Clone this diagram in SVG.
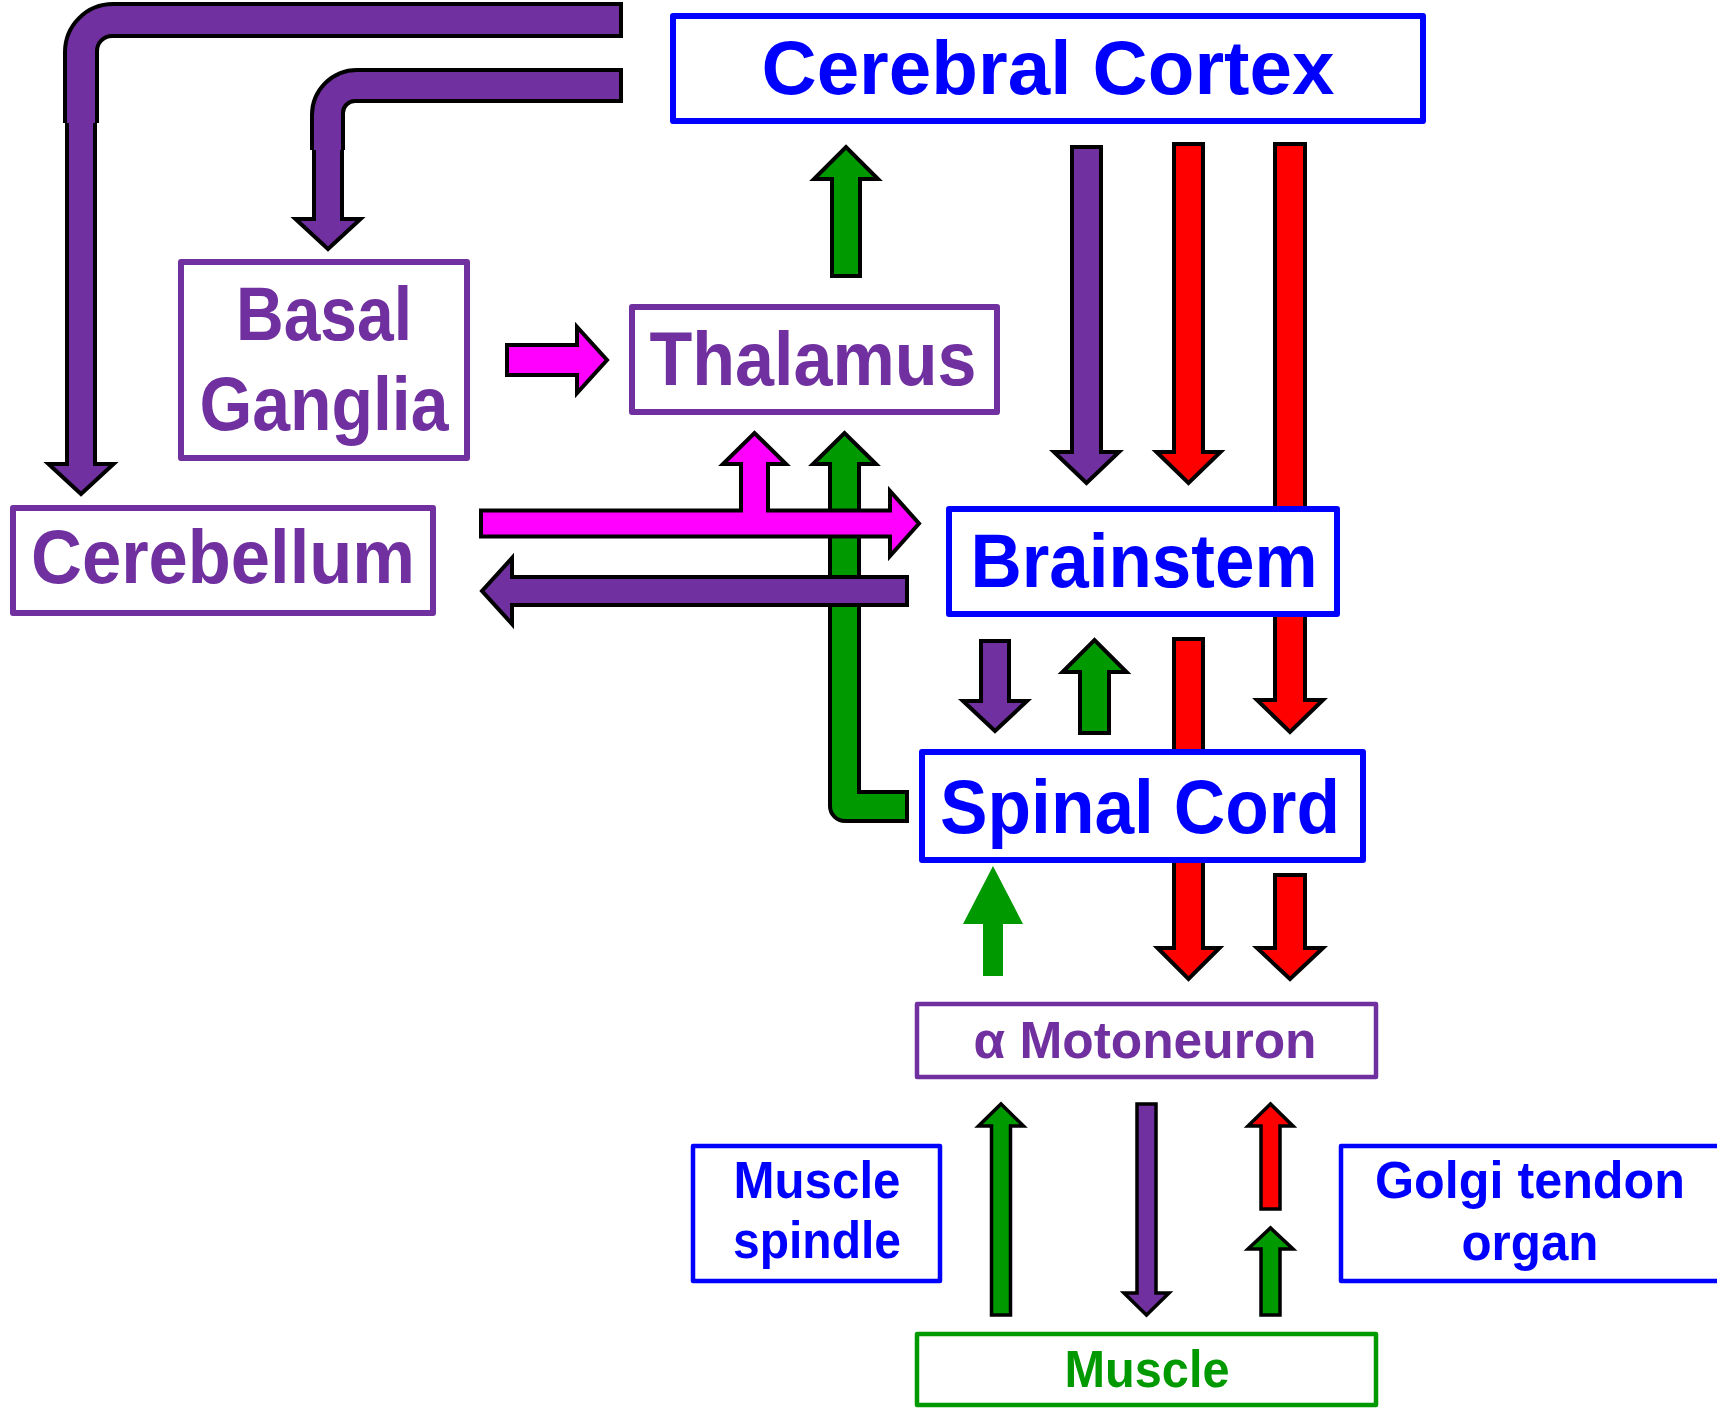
<svg xmlns="http://www.w3.org/2000/svg" width="1717" height="1408" viewBox="0 0 1717 1408">
  <style>
    .box { fill: #ffffff; stroke-width: 6; stroke-linejoin: round; }
    .sm { stroke-width: 4.5; }
    .b { stroke: #0000ff; }
    .p { stroke: #7030a0; }
    .g { stroke: #009900; }
    text { font-family: "Liberation Sans", Arial, sans-serif; font-weight: bold; text-anchor: middle; }
    .big { font-size: 76px; }
    .mid { font-size: 52px; }
    .tb { fill: #0000ff; }
    .tp { fill: #7030a0; }
    .tg { fill: #009900; }
    .ar { stroke: #000000; stroke-width: 4; stroke-linejoin: miter; }
    .thin { stroke-width: 3.5; }
    .fp { fill: #7030a0; }
    .fr { fill: #ff0000; }
    .fg { fill: #009900; }
    .fm { fill: #ff00ff; }
  </style>

  <g id="connectors">
    <!-- cortex to cerebellum: elbow band over the arrow shaft -->
    <polygon class="ar fp" points="67,118 95,118 95,464 113.5,464 81,494 48.5,464 67,464"/>
    <path class="ar fp" d="M97,123 L97,51 A15,15 0 0 1 112,36 L621,36 L621,4 L113,4 A48,48 0 0 0 65,52 L65,123"/>

    <!-- cortex to basal ganglia -->
    <polygon class="ar fp" points="314,145 342,145 342,219 360.5,219 328,249 295.5,219 314,219"/>
    <path class="ar fp" d="M343,150 L343,113 A12,12 0 0 1 355,101 L621,101 L621,70 L357,70 A45,45 0 0 0 312,115 L312,150"/>

    <!-- basal ganglia to thalamus -->
    <polygon class="ar fm" points="507,345 577,345 577,327 607,360 577,393 577,375 507,375"/>

    <!-- thalamus to cortex -->
    <polygon class="ar fg" points="832,276 832,179 814,179 846,147 878,179 860,179 860,276"/>

    <!-- cortex descending -->
    <polygon class="ar fp" points="1072,147 1101,147 1101,452 1119,452 1086.5,483 1054,452 1072,452"/>
    <polygon class="ar fr" points="1174,144 1203,144 1203,452 1220.5,452 1188.5,483 1156.5,452 1174,452"/>
    <polygon class="ar fr" points="1275,144 1305,144 1305,700 1323,700 1290,732 1257,700 1275,700"/>

    <!-- brainstem / spinal cord -->
    <polygon class="ar fp" points="981,641 1009,641 1009,701 1027,701 995,731 963,701 981,701"/>
    <polygon class="ar fg" points="1080,733 1080,672 1062.5,672 1094.5,640 1126.5,672 1109,672 1109,733"/>
    <polygon class="ar fr" points="1174,639 1203,639 1203,948 1219.5,948 1188.5,979 1157.5,948 1174,948"/>
    <polygon class="ar fr" points="1275,875 1305,875 1305,948 1323,948 1290,979 1257,948 1275,948"/>

    <!-- motoneuron to spinal cord -->
    <polygon class="fg" points="983,976 983,924 963,924 993,866 1023,924 1003,924 1003,976"/>

    <!-- muscle loop -->
    <polygon class="ar thin fg" points="991.5,1315 991.5,1126 978.5,1126 1001,1104 1023.5,1126 1010.5,1126 1010.5,1315"/>
    <polygon class="ar thin fp" points="1137,1104 1156,1104 1156,1293 1169,1293 1146.5,1315 1124,1293 1137,1293"/>
    <polygon class="ar thin fr" points="1261,1209 1261,1126 1248,1126 1270.5,1104 1293,1126 1280,1126 1280,1209"/>
    <polygon class="ar thin fg" points="1261,1315 1261,1249 1248,1249 1270.5,1228 1293,1249 1280,1249 1280,1315"/>

    <!-- spinal cord to thalamus (ascending) -->
    <path class="ar fg" d="M907,792 L859,792 L859,464 L876,464 L844.5,433 L813,464 L830,464 L830,806 A15,15 0 0 0 845,821 L907,821 Z"/>

    <!-- cerebellum to brainstem, branch to thalamus -->
    <polygon class="ar fm" points="481,510.5 741,510.5 741,464 723,464 754.5,433 786,464 768,464 768,510.5 890,510.5 890,491 919,523.5 890,556 890,536.5 481,536.5"/>

    <!-- brainstem to cerebellum -->
    <polygon class="ar fp" points="907,577 512,577 512,558 482,591 512,624 512,605 907,605"/>
  </g>

  <g id="cerebral-cortex">
    <rect class="box b" x="673" y="16" width="750" height="105"/>
    <text class="big tb" x="1048" y="94" textLength="573" lengthAdjust="spacingAndGlyphs">Cerebral Cortex</text>
  </g>

  <g id="thalamus">
    <rect class="box p" x="632" y="307" width="365" height="105"/>
    <text class="big tp" x="813" y="385" textLength="327" lengthAdjust="spacingAndGlyphs">Thalamus</text>
  </g>

  <g id="basal-ganglia">
    <rect class="box p" x="181" y="262" width="286" height="196"/>
    <text class="big tp"><tspan x="324" y="340" textLength="176" lengthAdjust="spacingAndGlyphs">Basal</tspan><tspan x="324" y="430" textLength="249" lengthAdjust="spacingAndGlyphs">Ganglia</tspan></text>
  </g>

  <g id="cerebellum">
    <rect class="box p" x="13" y="508" width="420" height="105"/>
    <text class="big tp" x="223" y="583" textLength="384" lengthAdjust="spacingAndGlyphs">Cerebellum</text>
  </g>

  <g id="brainstem">
    <rect class="box b" x="949" y="509" width="388" height="105"/>
    <text class="big tb" x="1144" y="587" textLength="347" lengthAdjust="spacingAndGlyphs">Brainstem</text>
  </g>

  <g id="spinal-cord">
    <rect class="box b" x="922" y="752" width="441" height="108"/>
    <text class="big tb" x="1140" y="833" textLength="400" lengthAdjust="spacingAndGlyphs">Spinal Cord</text>
  </g>

  <g id="motoneuron">
    <rect class="box sm p" x="917" y="1004" width="459" height="73"/>
    <text class="mid tp" x="1145" y="1058" textLength="343" lengthAdjust="spacingAndGlyphs">α Motoneuron</text>
  </g>

  <g id="muscle-spindle">
    <rect class="box sm b" x="693" y="1146" width="247" height="135"/>
    <text class="mid tb"><tspan x="817" y="1198" textLength="167" lengthAdjust="spacingAndGlyphs">Muscle</tspan><tspan x="817" y="1258" textLength="168" lengthAdjust="spacingAndGlyphs">spindle</tspan></text>
  </g>

  <g id="golgi-tendon-organ">
    <rect class="box sm b" x="1341" y="1146" width="420" height="135"/>
    <text class="mid tb"><tspan x="1530" y="1198" textLength="310" lengthAdjust="spacingAndGlyphs">Golgi tendon</tspan><tspan x="1530" y="1260" textLength="137" lengthAdjust="spacingAndGlyphs">organ</tspan></text>
  </g>

  <g id="muscle">
    <rect class="box sm g" x="917" y="1334" width="459" height="71"/>
    <text class="mid tg" x="1147" y="1387" textLength="165" lengthAdjust="spacingAndGlyphs">Muscle</text>
  </g>
</svg>
